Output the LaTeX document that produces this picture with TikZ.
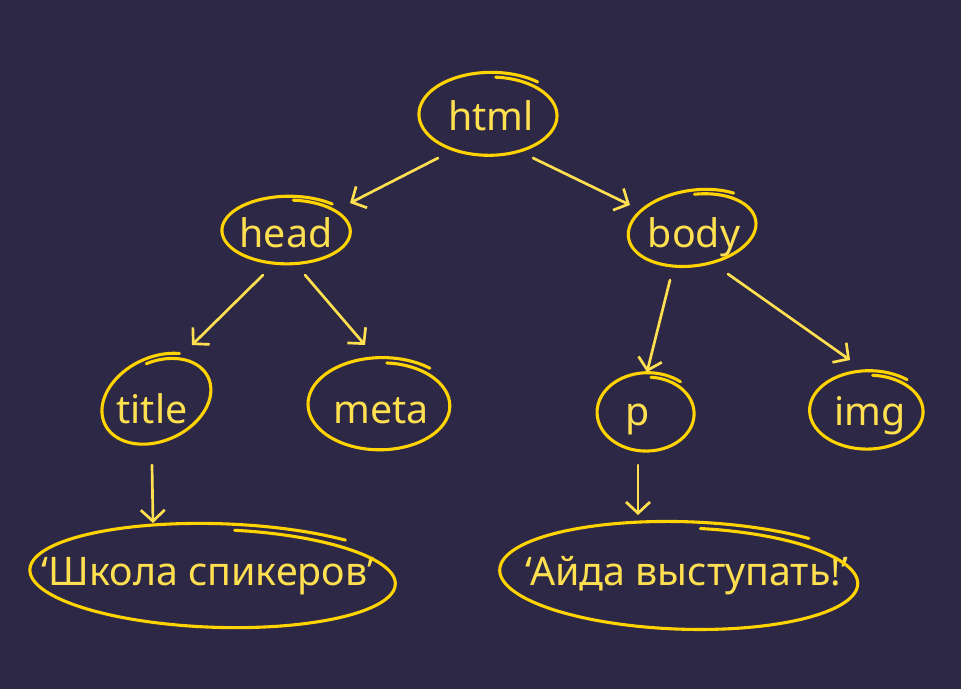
\documentclass[tikz,border=0pt]{standalone}
\usepackage{fontspec}
\setmainfont{Noto Sans}
\usetikzlibrary{arrows.meta, positioning, calc}
\definecolor{domnight}{RGB}{46, 40, 71}
\definecolor{domloop}{RGB}{255, 212, 0}
\definecolor{domtext}{RGB}{255, 224, 80}

% hand-drawn loop round a node: [rotation]{node}{offset}{x radius}{y radius}
\newcommand{\handloop}[5][0]{%
  \draw[loopline, shift={($(#2.base)+(#3)$)}, rotate=#1]
    plot[domain=50:445, samples=80, smooth]
    ({#4*cos(\x)*(1-0.0003*(\x-50))}, {#5*sin(\x)*(1-0.0003*(\x-50))});
}

\begin{document}
\begin{tikzpicture}[
    tagtext/.style={anchor=base, text=domtext, inner sep=0pt, font=\fontsize{28}{34}\selectfont},
    loopline/.style={draw=domloop, line width=2.2pt, line cap=round, line join=round},
    edge/.style={->, draw=domtext, line width=1.9pt, line cap=round, >={Straight Barb[length=2.8mm, width=6mm, line width=1.9pt]}}
]
\fill[domnight] (0,0) rectangle (24.025,-17.225);
\useasboundingbox (0,0) rectangle (24.025,-17.225);

\node[tagtext] (html) at (12.275,-3.25) {html};
\node[tagtext] (head) at (7.15,-6.175) {head};
\node[tagtext] (body) at (17.35,-6.175) {body};
\node[tagtext] (title) at (3.8,-10.575) {title};
\node[tagtext] (meta) at (9.525,-10.575) {meta};
\node[tagtext] (p) at (15.95,-10.625) {p};
\node[tagtext] (img) at (21.75,-10.625) {img};
\node[tagtext] (school) at (5.2,-14.625) {‘Школа спикеров’};
\node[tagtext] (speak) at (17.175,-14.625) {‘Айда выступать!’};

\handloop{html}{-0.025,0.375}{1.85}{1.08}
\handloop{head}{0.05,0.4}{1.72}{0.88}
\handloop[8]{body}{0,0.45}{1.72}{0.98}
\handloop[25]{title}{0.15,0.575}{1.52}{1.08}
\handloop{meta}{0,0.45}{1.9}{1.2}
\handloop{p}{0.225,0.3}{1.3}{1.02}
\handloop{img}{-0.05,0.35}{1.52}{1.02}
\handloop[-2]{school}{0.25,0.2}{4.9}{1.35}
\handloop[-2]{speak}{-0.075,0.2}{4.8}{1.4}

\draw[edge] ($(html.base)+(-1.325,-0.7)$) -- ($(head.base)+(1.6,1.1)$);
\draw[edge] ($(html.base)+(1.05,-0.7)$) -- ($(body.base)+(-1.6,1.05)$);
\draw[edge] ($(head.base)+(-0.575,-0.7)$) -- ($(title.base)+(1.0,1.95)$);
\draw[edge] ($(head.base)+(0.475,-0.7)$) -- ($(meta.base)+(-0.4,1.95)$);
\draw[edge] ($(body.base)+(-0.6,-0.825)$) -- ($(p.base)+(0.225,1.325)$);
\draw[edge] ($(body.base)+(0.85,-0.675)$) -- ($(img.base)+(-0.5,1.625)$);
\draw[edge] ($(title.base)+(0,-1.05)$) -- ($(school.base)+(-1.375,1.55)$);
\draw[edge] ($(p.base)+(0,-1.0)$) -- ($(speak.base)+(-1.225,1.75)$);
\end{tikzpicture}
\end{document}
